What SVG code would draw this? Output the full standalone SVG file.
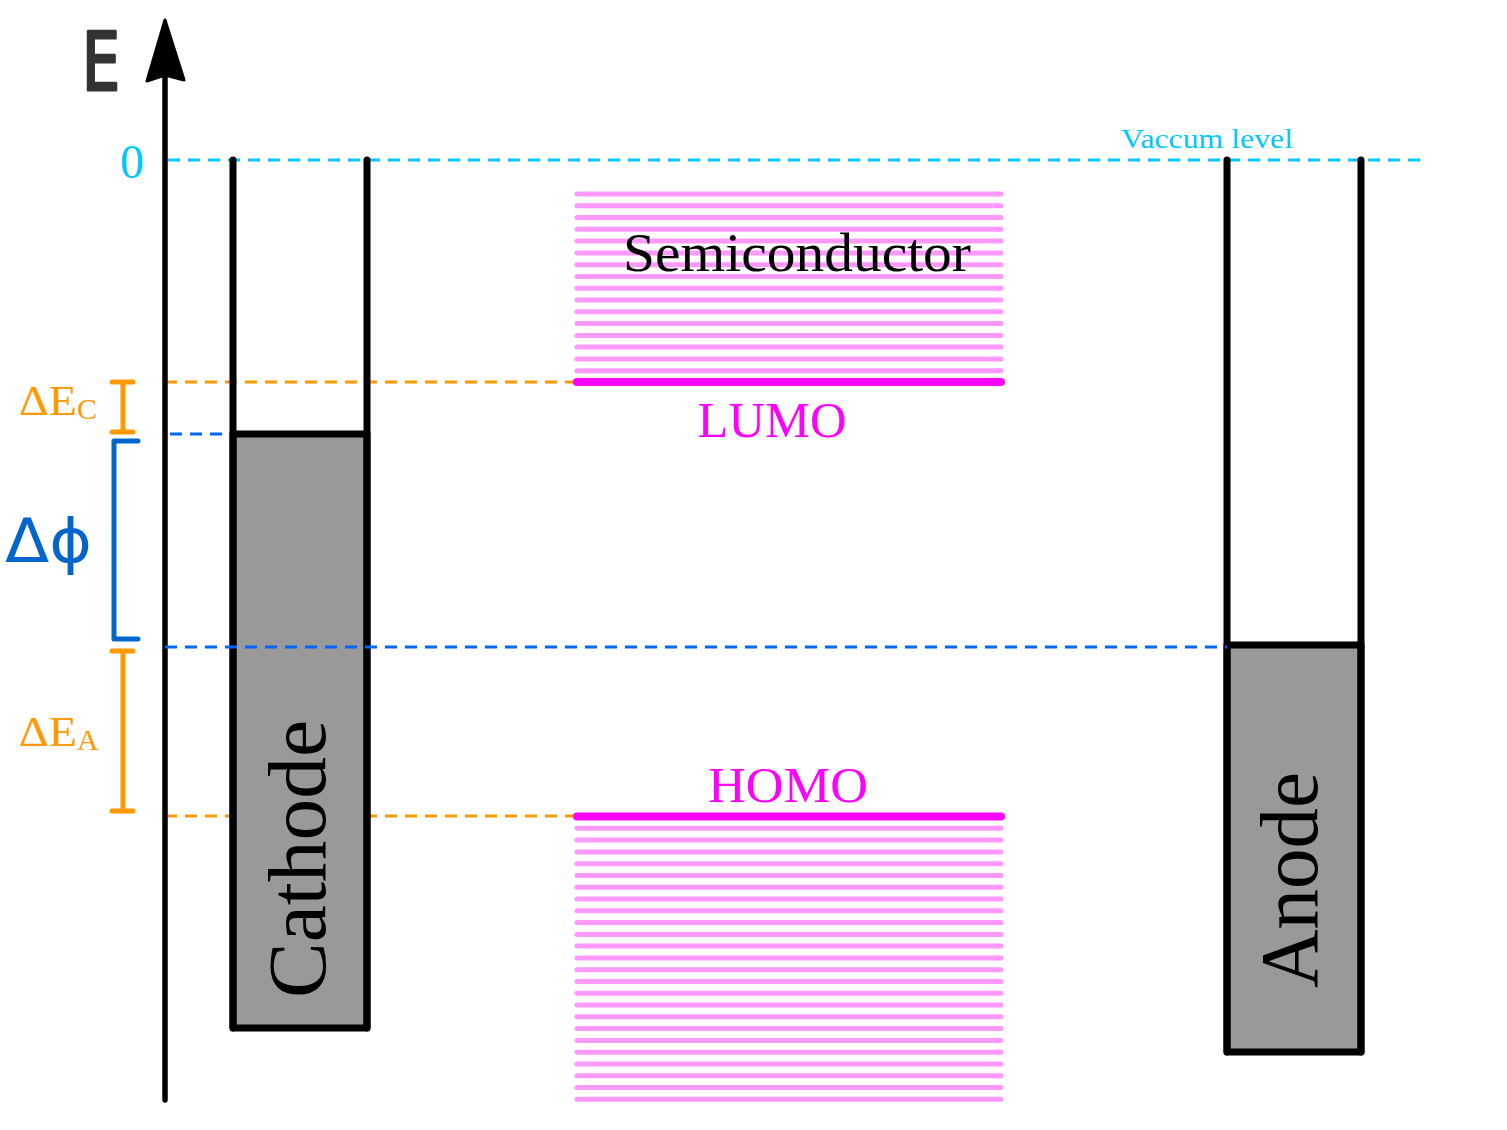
<svg xmlns="http://www.w3.org/2000/svg" width="1507" height="1130" viewBox="0 0 1507 1130">
<style>
.serif{font-family:"Liberation Serif","DejaVu Serif",serif}
.band{stroke:#ff99ff;stroke-width:5;stroke-linecap:round}
.level{stroke:#ff00ff;stroke-width:8;stroke-linecap:round}
.wall{stroke:#000;stroke-width:7;stroke-linecap:round;fill:none}
.dashO{stroke:#ff9900;stroke-width:3;stroke-dasharray:12 8;fill:none}
.dashB{stroke:#0066ff;stroke-width:3;stroke-dasharray:12 8;fill:none}
.dashC{stroke:#00c8ff;stroke-width:3;stroke-dasharray:12 8;fill:none}
.bar{stroke-width:5;stroke-linecap:round;stroke-linejoin:round;fill:none}
</style>
<rect width="1507" height="1130" fill="#fff"/>

<g id="connectors">
  <line class="dashC" x1="168" y1="160" x2="1425" y2="160"/>
  <line class="dashO" x1="165" y1="382" x2="577" y2="382"/>
  <line class="dashO" x1="165" y1="816" x2="577" y2="816"/>
</g>

<g id="axis">
  <line x1="165" y1="1100" x2="165" y2="60" stroke="#000" stroke-width="5.5" stroke-linecap="round"/>
  <polygon points="165,20 184,80 165,75 147,81" fill="#000" stroke="#000" stroke-width="3" stroke-linejoin="round"/>
  <text x="101" y="90" font-family="DejaVu Sans, sans-serif" font-size="80" fill="#333" stroke="#333" stroke-width="3" stroke-linejoin="round" text-anchor="middle" textLength="38" lengthAdjust="spacingAndGlyphs">E</text>
  <text x="132" y="178" class="serif" font-size="48" fill="#00c8ff" text-anchor="middle">0</text>
  <text x="1121" y="148" class="serif" font-size="28" fill="#00c8ff" textLength="172" lengthAdjust="spacingAndGlyphs">Vaccum level</text>
</g>

<g id="semiconductor">
  <g id="lumo-band">
    <line class="band" x1="577" y1="194" x2="1001" y2="194"/>
    <line class="band" x1="577" y1="205.8" x2="1001" y2="205.8"/>
    <line class="band" x1="577" y1="217.6" x2="1001" y2="217.6"/>
    <line class="band" x1="577" y1="229.3" x2="1001" y2="229.3"/>
    <line class="band" x1="577" y1="241.1" x2="1001" y2="241.1"/>
    <line class="band" x1="577" y1="252.9" x2="1001" y2="252.9"/>
    <line class="band" x1="577" y1="264.7" x2="1001" y2="264.7"/>
    <line class="band" x1="577" y1="276.5" x2="1001" y2="276.5"/>
    <line class="band" x1="577" y1="288.2" x2="1001" y2="288.2"/>
    <line class="band" x1="577" y1="300" x2="1001" y2="300"/>
    <line class="band" x1="577" y1="311.8" x2="1001" y2="311.8"/>
    <line class="band" x1="577" y1="323.6" x2="1001" y2="323.6"/>
    <line class="band" x1="577" y1="335.4" x2="1001" y2="335.4"/>
    <line class="band" x1="577" y1="347.1" x2="1001" y2="347.1"/>
    <line class="band" x1="577" y1="358.9" x2="1001" y2="358.9"/>
    <line class="band" x1="577" y1="370.7" x2="1001" y2="370.7"/>
    <line class="level" x1="577" y1="382" x2="1001" y2="382"/>
  </g>
  <text x="797" y="271" class="serif" font-size="55" fill="#000" text-anchor="middle" textLength="348" lengthAdjust="spacingAndGlyphs">Semiconductor</text>
  <text x="772" y="437" class="serif" font-size="51" fill="#ff00ff" text-anchor="middle" textLength="149" lengthAdjust="spacingAndGlyphs">LUMO</text>
  <text x="788" y="802" class="serif" font-size="51" fill="#ff00ff" text-anchor="middle" textLength="160" lengthAdjust="spacingAndGlyphs">HOMO</text>
  <g id="homo-band">
    <line class="band" x1="577" y1="828.3" x2="1001" y2="828.3"/>
    <line class="band" x1="577" y1="840.1" x2="1001" y2="840.1"/>
    <line class="band" x1="577" y1="851.9" x2="1001" y2="851.9"/>
    <line class="band" x1="577" y1="863.7" x2="1001" y2="863.7"/>
    <line class="band" x1="577" y1="875.5" x2="1001" y2="875.5"/>
    <line class="band" x1="577" y1="887.2" x2="1001" y2="887.2"/>
    <line class="band" x1="577" y1="899" x2="1001" y2="899"/>
    <line class="band" x1="577" y1="910.8" x2="1001" y2="910.8"/>
    <line class="band" x1="577" y1="922.6" x2="1001" y2="922.6"/>
    <line class="band" x1="577" y1="934.4" x2="1001" y2="934.4"/>
    <line class="band" x1="577" y1="946.1" x2="1001" y2="946.1"/>
    <line class="band" x1="577" y1="957.9" x2="1001" y2="957.9"/>
    <line class="band" x1="577" y1="969.7" x2="1001" y2="969.7"/>
    <line class="band" x1="577" y1="981.5" x2="1001" y2="981.5"/>
    <line class="band" x1="577" y1="993.3" x2="1001" y2="993.3"/>
    <line class="band" x1="577" y1="1005" x2="1001" y2="1005"/>
    <line class="band" x1="577" y1="1016.8" x2="1001" y2="1016.8"/>
    <line class="band" x1="577" y1="1028.6" x2="1001" y2="1028.6"/>
    <line class="band" x1="577" y1="1040.4" x2="1001" y2="1040.4"/>
    <line class="band" x1="577" y1="1052.2" x2="1001" y2="1052.2"/>
    <line class="band" x1="577" y1="1063.9" x2="1001" y2="1063.9"/>
    <line class="band" x1="577" y1="1075.7" x2="1001" y2="1075.7"/>
    <line class="band" x1="577" y1="1087.5" x2="1001" y2="1087.5"/>
    <line class="band" x1="577" y1="1099.3" x2="1001" y2="1099.3"/>
    <line class="level" x1="577" y1="816.5" x2="1001" y2="816.5"/>
  </g>
</g>

<g id="cathode">
  <rect x="233" y="434" width="134" height="594" fill="#999" stroke="#000" stroke-width="7" stroke-linejoin="round"/>
  <line class="wall" x1="233" y1="160" x2="233" y2="1028"/>
  <line class="wall" x1="367" y1="160" x2="367" y2="1028"/>
  <text transform="translate(325,859) rotate(-90)" class="serif" font-size="82" fill="#000" text-anchor="middle" textLength="278" lengthAdjust="spacingAndGlyphs">Cathode</text>
</g>

<g id="anode">
  <rect x="1227" y="645" width="134" height="407" fill="#999" stroke="#000" stroke-width="7" stroke-linejoin="round"/>
  <line class="wall" x1="1227" y1="160" x2="1227" y2="1052"/>
  <line class="wall" x1="1361" y1="160" x2="1361" y2="1052"/>
  <text transform="translate(1317,880) rotate(-90)" class="serif" font-size="82" fill="#000" text-anchor="middle" textLength="216" lengthAdjust="spacingAndGlyphs">Anode</text>
</g>

<g id="blue-levels">
  <line class="dashB" x1="170" y1="434" x2="230" y2="434"/>
  <line class="dashB" x1="165" y1="647" x2="1227" y2="647"/>
</g>

<g id="delta-ec">
  <path class="bar" stroke="#ff9900" d="M112,382 H133 M123,382 V432 M112,432 H133"/>
  <text x="19" y="415" class="serif" font-size="43" fill="#ff9900"><tspan textLength="58" lengthAdjust="spacingAndGlyphs">ΔE</tspan><tspan font-size="30" dy="4">C</tspan></text>
</g>

<g id="delta-phi">
  <path class="bar" stroke="#0066cc" d="M138,441 H114 V639 H138"/>
  <text x="5" y="562" font-family="DejaVu Sans, sans-serif" font-size="60" fill="#0066cc" textLength="87" lengthAdjust="spacingAndGlyphs">Δϕ</text>
</g>

<g id="delta-ea">
  <path class="bar" stroke="#ff9900" d="M112,651 H133 M123,651 V811 M112,811 H133"/>
  <text x="19" y="746" class="serif" font-size="43" fill="#ff9900"><tspan textLength="58" lengthAdjust="spacingAndGlyphs">ΔE</tspan><tspan font-size="30" dy="4">A</tspan></text>
</g>
</svg>
